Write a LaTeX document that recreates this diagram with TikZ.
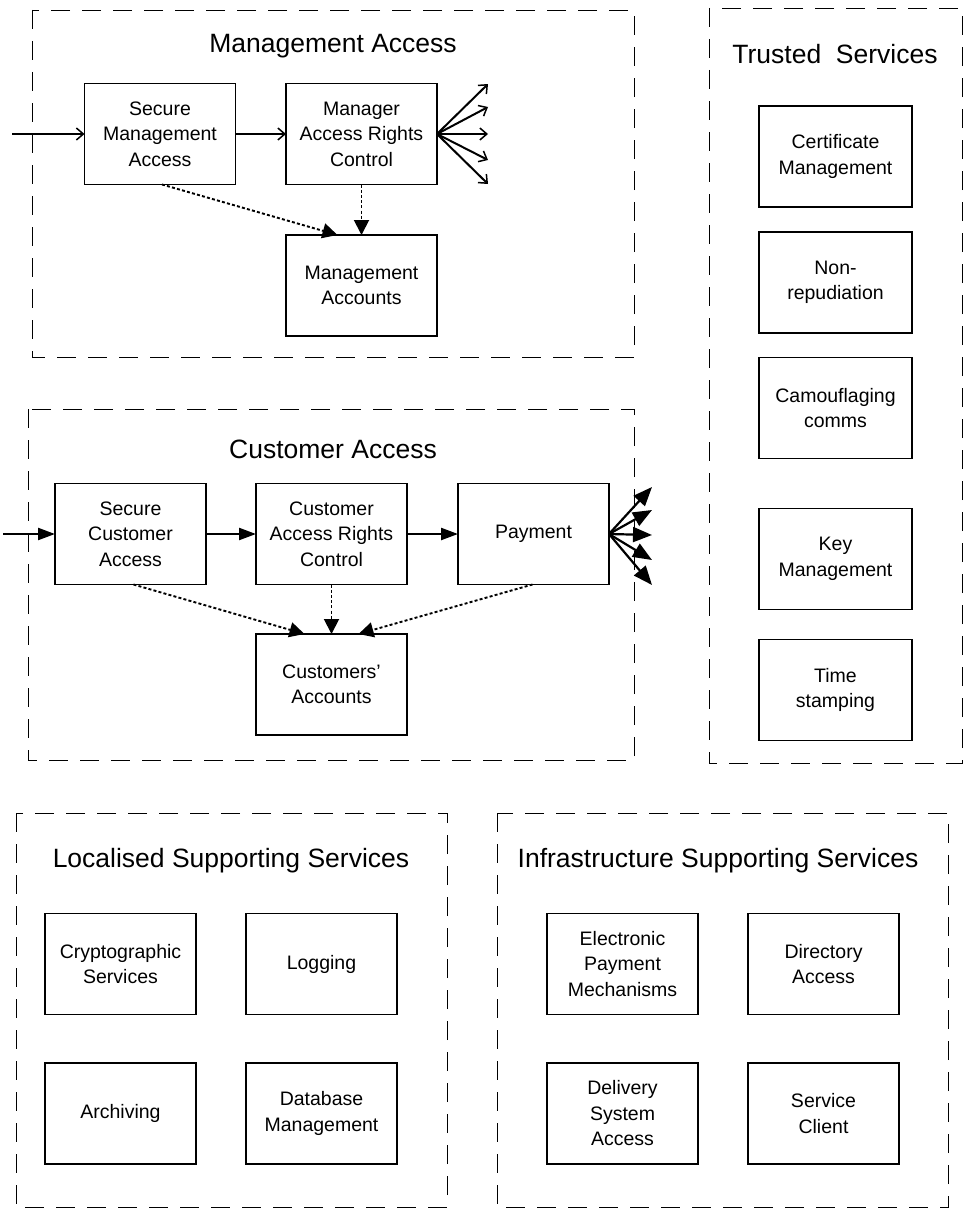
\documentclass[tikz,border=0pt]{standalone}
\usepackage{fontspec}
\setmainfont{Liberation Sans}
\usetikzlibrary{arrows.meta,calc}
\begin{document}
\begin{tikzpicture}[x=1pt,y=-1pt,
  group/.style={draw, line width=0.9pt, dash pattern=on 19pt off 12pt},
  box/.style={draw, line width=1.5pt, minimum width=151pt, minimum height=101pt,
    inner sep=0pt, outer sep=0pt, align=center, font=\fontsize{19.5}{25.5}\selectfont},
  tbox/.style={box, minimum width=153pt},
  title/.style={font=\fontsize{26.5}{30}\selectfont, inner sep=0pt},
  mgmtarrow/.style={line width=1.5pt, -{Straight Barb[length=7pt,width=12pt,line width=1.5pt]}},
  custarrow/.style={line width=2.3pt, -{Triangle[length=17pt,width=12pt]}},
  fanarrow/.style={line width=2.2pt, -{Triangle[length=19pt,width=15pt]}},
  dotarrow/.style={line width=1.9pt, dash pattern=on 3pt off 2.2pt, -{Triangle[length=15pt,width=15pt]}},
]
\useasboundingbox (0,0) rectangle (968,1215);

% dashed group outlines
\draw[group] (32,10) rectangle (634,357);
\draw[group] (709,8) rectangle (962,763);
\draw[group] (28,409) rectangle (634,760);
\draw[group] (16,813) rectangle (447,1207);
\draw[group] (497,813) rectangle (948,1207);

% group titles
\node[title] (tma) at (333,46) {Management Access};
\node[title] (tts) at (835,54) {Trusted\ \ Services};
\node[title] (tca) at (333,449) {Customer Access};
\node[title] (tls) at (231,861) {Localised Supporting Services};
\node[title] (tis) at (718,861) {Infrastructure Supporting Services};

% management access
\node[box] (sma) at (160,134) {Secure\\Management\\Access};
\node[box] (marc) at (361.5,134) {Manager\\Access Rights\\Control};
\node[box] (macc) at (361.5,285.5) {Management\\Accounts};

\coordinate (min) at (12,134);
\draw[mgmtarrow] (min) -- (sma.west);
\draw[mgmtarrow] (sma.east) -- (marc.west);
\foreach \i/\y in {1/84,2/107,3/134,4/160,5/184}{
  \coordinate (mout\i) at (488,\y);
  \draw[mgmtarrow, line width=2pt] (marc.east) -- (mout\i);
}
\draw[dotarrow] ([xshift=2pt]sma.south) -- ([xshift=-24pt]macc.north);
\draw[dotarrow] (marc.south) -- (macc.north);

% customer access
\node[box] (sca) at (130.5,534) {Secure\\Customer\\Access};
\node[box] (carc) at (331.5,534) {Customer\\Access Rights\\Control};
\node[box] (pay) at (533.5,534) {Payment};
\node[box] (cacc) at (331.5,684.5) {Customers'\\Accounts};

\coordinate (cin) at (3,534);
\draw[custarrow] (cin) -- (sca.west);
\draw[custarrow] (sca.east) -- (carc.west);
\draw[custarrow] (carc.east) -- (pay.west);
\foreach \i/\y in {1/487,2/510,3/535,4/560,5/585}{
  \coordinate (cout\i) at (652,\y);
  \draw[fanarrow] (pay.east) -- (cout\i);
}
\draw[dotarrow] ([xshift=3pt]sca.south) -- ([xshift=-27pt]cacc.north);
\draw[dotarrow] (carc.south) -- (cacc.north);
\draw[dotarrow] ([xshift=-1pt]pay.south) -- ([xshift=27pt]cacc.north);

% trusted services
\node[tbox] (cert) at (835.5,156.5) {Certificate\\Management};
\node[tbox] (nonrep) at (835.5,282.5) {Non-\\repudiation};
\node[tbox] (camo) at (835.5,408) {Camouflaging\\comms};
\node[tbox] (keym) at (835.5,559) {Key\\Management};
\node[tbox] (time) at (835.5,690) {Time\\stamping};

% localised supporting services
\node[box] (crypt) at (120.5,964) {Cryptographic\\Services};
\node[box] (logg) at (321.5,964) {Logging};
\node[box] (arch) at (120.5,1113.5) {Archiving};
\node[box] (dbm) at (321.5,1113.5) {Database\\Management};

% infrastructure supporting services
\node[box] (epm) at (622.5,964) {Electronic\\Payment\\Mechanisms};
\node[box] (dira) at (823.5,964) {Directory\\Access};
\node[box] (dsa) at (622.5,1113.5) {Delivery\\System\\Access};
\node[box] (svc) at (823.5,1113.5) {Service\\Client};
\end{tikzpicture}
\end{document}
